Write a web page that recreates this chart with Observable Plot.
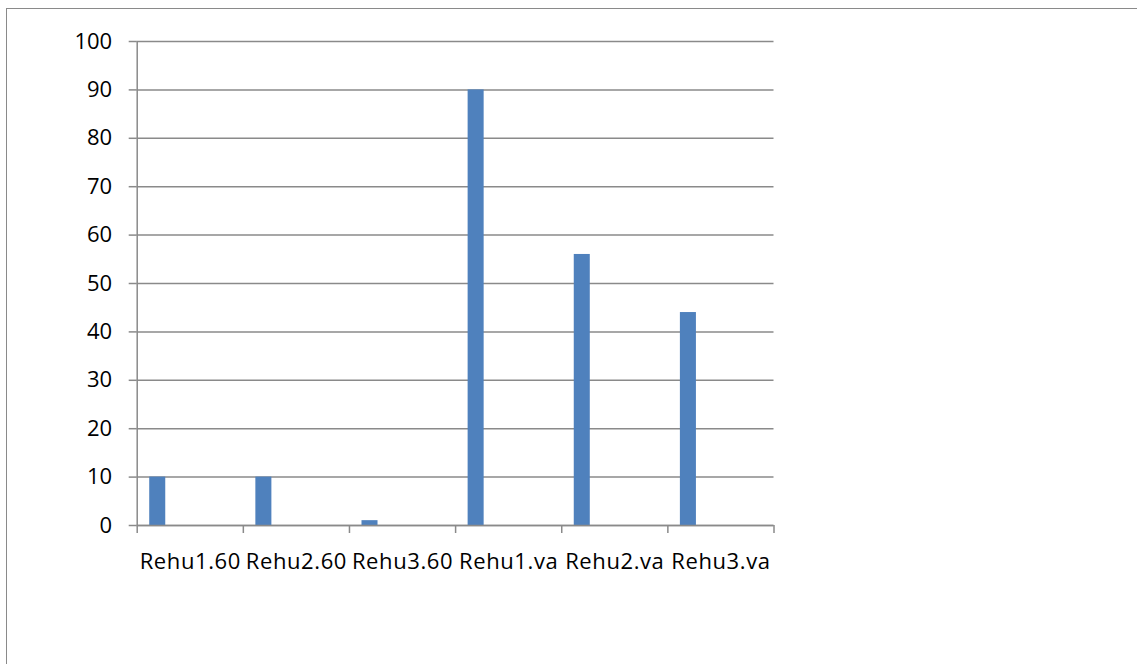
<!DOCTYPE html>
<html>
<head>
<meta charset="utf-8">
<script src="https://cdn.jsdelivr.net/npm/d3@7"></script>
<script src="https://cdn.jsdelivr.net/npm/@observablehq/plot@0.6"></script>
<style>
  html, body { margin: 0; padding: 0; background: #fff; overflow: hidden; }
  #frame {
    position: absolute; left: 6px; top: 8px; width: 1200px; height: 700px;
    border: 1.5px solid #8a8a8a; box-sizing: border-box;
  }
  #chart { position: absolute; left: 0; top: 0; }
  #chart text { font-family: "Open Sans", sans-serif; }
  #chart .cat text { letter-spacing: 0.6px; }
</style>
</head>
<body>
<div id="frame"></div>
<div id="chart"></div>
<script>
// Category labels and their column values
const categories = ["Rehu1.60", "Rehu2.60", "Rehu3.60", "Rehu1.va", "Rehu2.va", "Rehu3.va"];
const values = [10, 10, 1, 90, 56, 44];
const yTicks = [0, 10, 20, 30, 40, 50, 60, 70, 80, 90, 100];

const rows = categories.map((c, i) => ({ category: c, index: i, value: values[i] }));

// Each column sits in the left part of its category slot
const barStart = 0.118;
const barWidth = 0.151;

const grid = "#8a8a8a";
const fontSize = 22;

const chart = Plot.plot({
  width: 1137,
  height: 664,
  marginLeft: 136.7,
  marginRight: 363.5,
  marginTop: 41,
  marginBottom: 139,
  style: { fontFamily: "'Open Sans', sans-serif", fontSize: fontSize + "px", color: "#000", background: "transparent", overflow: "visible" },
  x: { type: "linear", domain: [0, categories.length], axis: null },
  y: { domain: [0, 100], axis: null },
  marks: [
    // horizontal gridlines, with short ticks to the left of the value axis
    Plot.ruleY(yTicks, { stroke: grid, strokeWidth: 1.5, strokeOpacity: 1 }),
    Plot.axisY({ ticks: yTicks, tickSize: 8, tickPadding: 17, stroke: grid, strokeWidth: 1.5, strokeOpacity: 1, fill: "#000", fontSize: fontSize, label: null }),
    // columns
    Plot.rectY(rows, {
      x1: d => d.index + barStart,
      x2: d => d.index + barStart + barWidth,
      y1: 0,
      y2: "value",
      fill: "#4f81bd"
    }),
    // value axis line and category axis line
    Plot.ruleX([0], { stroke: grid, strokeWidth: 1.5 }),
    Plot.ruleY([0], { stroke: grid, strokeWidth: 1.5 }),
    // category tick marks at slot boundaries
    Plot.axisX({ ticks: d3.range(categories.length + 1), tickSize: 8, tickFormat: () => "", stroke: grid, strokeWidth: 1.5, strokeOpacity: 1 }),
    // category labels centred in their slots
    Plot.text(rows, {
      x: d => d.index + 0.5,
      y: 0,
      text: "category",
      dy: 36,
      fill: "#000",
      fontSize: fontSize,
      textAnchor: "middle",
      className: "cat"
    })
  ]
});

document.getElementById("chart").appendChild(chart);
</script>
</body>
</html>
